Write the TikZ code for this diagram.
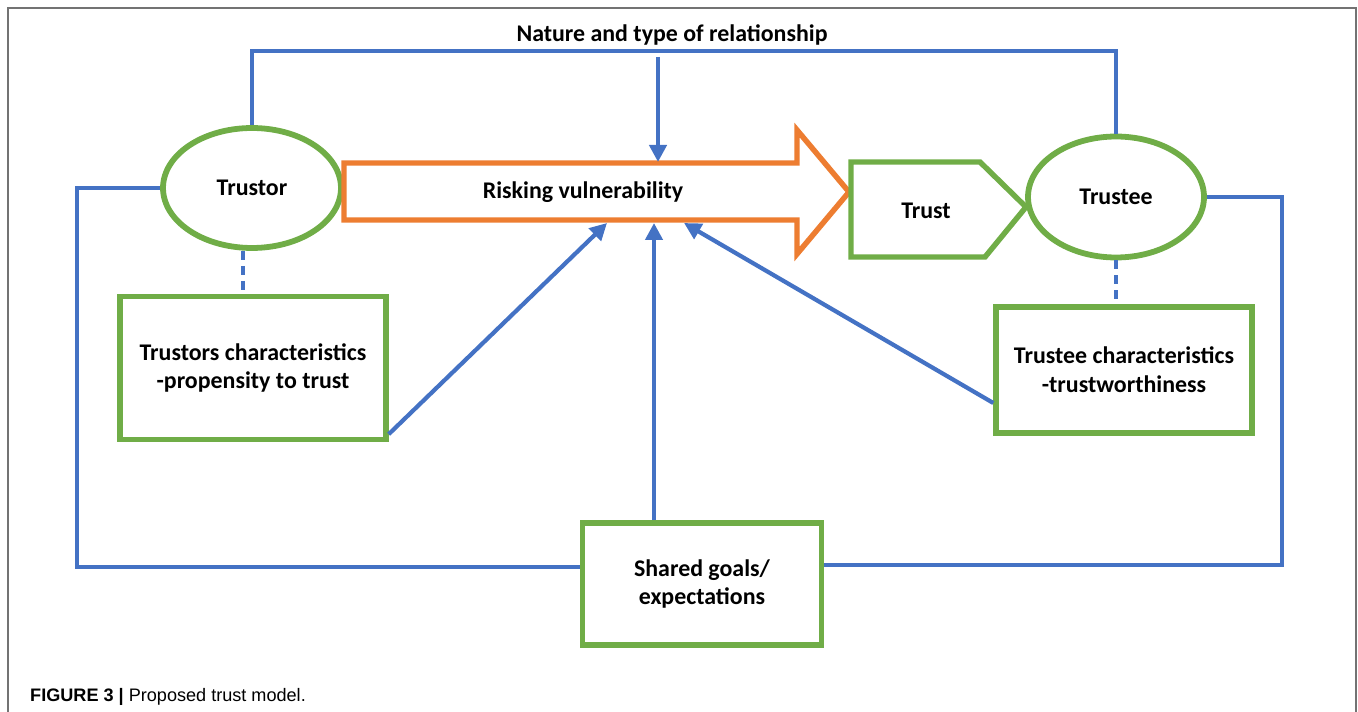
\documentclass[tikz,border=0pt]{standalone}
\usepackage{fontspec}
\setmainfont{Carlito}
\newfontfamily\capfont{Liberation Sans}
\usepackage{tikz}
\usetikzlibrary{positioning, arrows.meta, shapes.geometric, calc}
\definecolor{linkblue}{RGB}{68,114,196}
\definecolor{boxgreen}{RGB}{112,173,71}
\definecolor{riskorange}{RGB}{237,125,49}
\tikzset{
    lbl/.style={font=\fontsize{13.6}{16.3}\selectfont\bfseries},
    party/.style={lbl, ellipse, draw=boxgreen, line width=3.3pt, minimum width=3.56cm, minimum height=2.4cm},
    greenbox/.style={lbl, rectangle, draw=boxgreen, line width=3.1pt, align=center},
    link/.style={draw=linkblue, line width=2.4pt},
    linkarrow/.style={link, -{Triangle[length=0.34cm, width=0.34cm]}},
    dashlink/.style={draw=linkblue, line width=1.9pt, dash pattern=on 5pt off 3.5pt},
}

\begin{document}
\begin{tikzpicture}[x=0.02cm, y=-0.02cm]
    \useasboundingbox (0,0) rectangle (1358,712);
    \draw[black!55, line width=0.7pt] (8,712) |- (1356,8) -- (1356,712);

    \node[party] (tor) at (252,188) {Trustor};
    \node[party, minimum width=3.52cm, minimum height=2.42cm] (tee) at (1116,197) {Trustee};

    \draw[draw=riskorange, fill=white, line width=3.1pt, line join=miter]
      (344,163) -- (797,163) -- (797,130) -- (849,192) -- (797,254) -- (797,220) -- (344,220) -- cycle;
    \node[lbl] (risk) at (583,192) {Risking vulnerability};

    \draw[draw=boxgreen, line width=3.1pt, line join=miter]
      (851,162) -- (980,162) -- (1026,207) -- (985,257) -- (851,257) -- cycle;
    \node[lbl] (trust) at (926,211) {Trust};

    \node[greenbox, minimum width=5.32cm, minimum height=2.86cm] (torc) at (253,368) {Trustors characteristics\\-propensity to trust};
    \node[greenbox, minimum width=5.12cm, minimum height=2.52cm] (teec) at (1124,370) {Trustee characteristics\\-trustworthiness};
    \node[greenbox, minimum width=4.78cm, minimum height=2.44cm] (shared) at (702,584) {Shared goals/\\expectations};

    \node[lbl] (nature) at (672,35) {Nature and type of relationship};

    \coordinate (top) at (658,51);
    \coordinate (r0) at (658,162);
    \coordinate (r1) at (607,223);
    \coordinate (r2) at (654,223);
    \coordinate (r3) at (684,223);
    \coordinate (bl) at (77,567);
    \coordinate (br) at (1282,565);

    \draw[link] (tor.north) |- (top) -| (tee.north);
    \draw[linkarrow] ($(top)+(0,6)$) -- (r0);
    \draw[link] (tor.west) -| (bl) -- (bl -| shared.west);
    \draw[link] (tee.east) -| (br) -- (br -| shared.east);
    \draw[linkarrow] (r2 |- shared.north) -- (r2);
    \draw[linkarrow] ($(torc.south east)+(0,-8)$) -- (r1);
    \draw[linkarrow] ($(teec.west)+(0,33)$) -- (r3);
    \draw[dashlink] (tor.south -| 243,0) -- (torc.north -| 243,0);
    \draw[dashlink] (tee.south) -- (tee.south |- teec.north);

    \node[anchor=base west, font=\capfont\fontsize{10.3}{12}\selectfont] (cap) at (24,701) {\textbf{FIGURE 3 |} Proposed trust model.};
\end{tikzpicture}
\end{document}
